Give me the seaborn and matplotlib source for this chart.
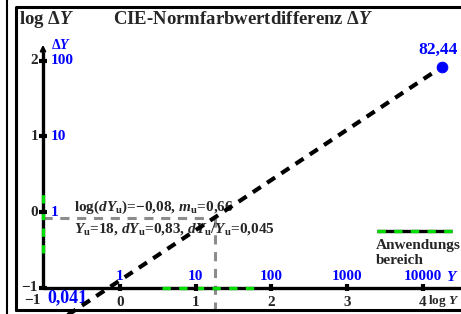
import matplotlib
matplotlib.use("Agg")
import matplotlib.pyplot as plt
import seaborn as sns
import pandas as pd
from matplotlib.lines import Line2D

sns.set_style("white")
plt.rcParams['font.family'] = ['Liberation Serif', 'DejaVu Serif']
plt.rcParams['font.weight'] = 'bold'
plt.rcParams['mathtext.fontset'] = 'custom'
plt.rcParams['mathtext.rm'] = 'Liberation Serif:bold'
plt.rcParams['mathtext.it'] = 'Liberation Serif:bold:italic'
plt.rcParams['mathtext.bf'] = 'Liberation Serif:bold'

# ---- data ----
x_ticks = [0, 1, 2, 3, 4]
x_blue_labels = ["1", "10", "100", "1000", "10000"]
y_ticks = [2, 1, 0, -1]
y_blue_labels = ["100", "10", "1", ""]
line_logY = [-0.73, 4.25]
line_logdY = [-1.387, 1.916]
end_label = "82,44"
start_label = "0,041"
logYu = 1.255
logdYu = -0.08
range_x = [0.555, 1.85]
range_y = [-0.54, 0.33]
ann1 = r"log($dY_\mathrm{u}$)=−0,08, $m_\mathrm{u}$=0,66"
ann2 = r"$Y_\mathrm{u}$=18, $dY_\mathrm{u}$=0,83, $dY_\mathrm{u}/Y_\mathrm{u}$=0,045"

S = 75.7
def X(px):
    return (px - 120) / S
def Y(py):
    return (212 - py) / S

fig = plt.figure(figsize=(4.61, 3.14), dpi=100)
ax = fig.add_axes([0, 0, 1, 1])
ax.set_xlim(X(0), X(461))
ax.set_ylim(Y(314), Y(0))
ax.axis("off")

BLUE = "#0000ff"
GREEN = "#00dd00"
GRAY = "#8c8c8c"

# frame lines
fig.add_artist(Line2D([7/461, 7/461], [0, 1], color="black", lw=1.5, transform=fig.transFigure))
fig.add_artist(Line2D([16/461, 16/461, 1], [1-310/314, 1-7/314, 1-7/314], color="black", lw=2.2, transform=fig.transFigure))
fig.add_artist(Line2D([16/461, 1], [1-310/314, 1-310/314], color="black", lw=2.2, transform=fig.transFigure))

# gray guides
ax.plot([X(43), logYu], [logdYu, logdYu], color=GRAY, lw=2.2, ls=(0, (3, 2.5)), zorder=2)
ax.plot([logYu, logYu], [logdYu, Y(320)], color=GRAY, lw=2.2, ls=(0, (3, 2.5)), zorder=2)

# axes
ax0x = X(43)
ax.plot([ax0x, ax0x], [-1, Y(52)], color="black", lw=2.4, zorder=3, solid_capstyle="butt")
ax.annotate("", xy=(ax0x, Y(42)), xytext=(ax0x, Y(55)),
            arrowprops=dict(arrowstyle="-|>", color="black", lw=1.5, mutation_scale=8), zorder=3)
ax.plot([ax0x, X(461)], [-1, -1], color="black", lw=2.4, zorder=3, solid_capstyle="butt")
# green application range on axes
ax.plot(range_x, [-1, -1], color=GREEN, lw=2.4, ls=(0, (2.5, 2.5)), zorder=4)
ax.plot([ax0x, ax0x], range_y, color=GREEN, lw=2.4, ls=(0, (2.5, 2.5)), zorder=4)

# tick marks
for t in x_ticks:
    ax.plot([t, t], [-1 - 0.05, -1 + 0.05], color="black", lw=3, zorder=5, solid_capstyle="butt")
for t in y_ticks:
    ax.plot([ax0x - 0.05, ax0x + 0.05], [t, t], color="black", lw=3, zorder=5, solid_capstyle="butt")

fs = 11
for t, bl in zip(x_ticks, x_blue_labels):
    ax.text(t, Y(302), str(t), ha="center", va="center", fontsize=fs, fontweight="bold")
    ax.text(t, Y(276), bl, ha="center", va="center", fontsize=fs, fontweight="bold", color=BLUE)
ax.text(X(452), Y(277), "$Y$", ha="center", va="center", fontsize=fs, color=BLUE)
ax.text(X(459), Y(301), "log $Y$", ha="right", va="center", fontsize=9.5)

for t, bl in zip(y_ticks, y_blue_labels):
    ax.text(X(38), t, "−1" if t == -1 else str(t), ha="right", va="center", fontsize=fs, fontweight="bold")
    if bl:
        ax.text(X(51), t, bl, ha="left", va="center", fontsize=fs, fontweight="bold", color=BLUE)
ax.text(X(51), Y(45), r"$\Delta Y$", ha="left", va="center", fontsize=10, color=BLUE)

ax.text(X(41), Y(300), "−1", ha="right", va="center", fontsize=fs)
ax.text(X(47), Y(298), start_label, ha="left", va="center", fontsize=13, color=BLUE)

# titles
ax.text(X(19), Y(20), r"log $\Delta Y$", ha="left", va="center", fontsize=13.5)
ax.text(X(113), Y(20), r"CIE-Normfarbwertdifferenz $\Delta Y$", ha="left", va="center", fontsize=13.5)

# main dashed line and point via seaborn
df = pd.DataFrame({"logY": line_logY, "logdY": line_logdY})
sns.lineplot(data=df, x="logY", y="logdY", ax=ax, color="black", lw=3, zorder=6,
             linestyle=(0, (2.3, 1.8)))
sns.scatterplot(x=[line_logY[-1]], y=[line_logdY[-1]], ax=ax, color=BLUE, s=60, zorder=7, edgecolor=BLUE)
ax.set_xlim(X(0), X(461))
ax.set_ylim(Y(314), Y(0))
ax.text(X(458), Y(50), end_label, ha="right", va="center", fontsize=12.5, color=BLUE)

# annotations
ax.text(X(74), Y(207), ann1, ha="left", va="center", fontsize=fs)
ax.text(X(74), Y(229), ann2, ha="left", va="center", fontsize=fs)

# legend
ax.plot([X(377), X(452)], [Y(231), Y(231)], color="black", lw=2.4, solid_capstyle="butt")
ax.plot([X(377), X(452)], [Y(231), Y(231)], color=GREEN, lw=2.4, ls=(0, (2.5, 2.5)))
ax.text(X(376), Y(246), "Anwendungs", ha="left", va="center", fontsize=fs)
ax.text(X(376), Y(261), "bereich", ha="left", va="center", fontsize=fs)

fig.savefig("out.png", dpi=100)
